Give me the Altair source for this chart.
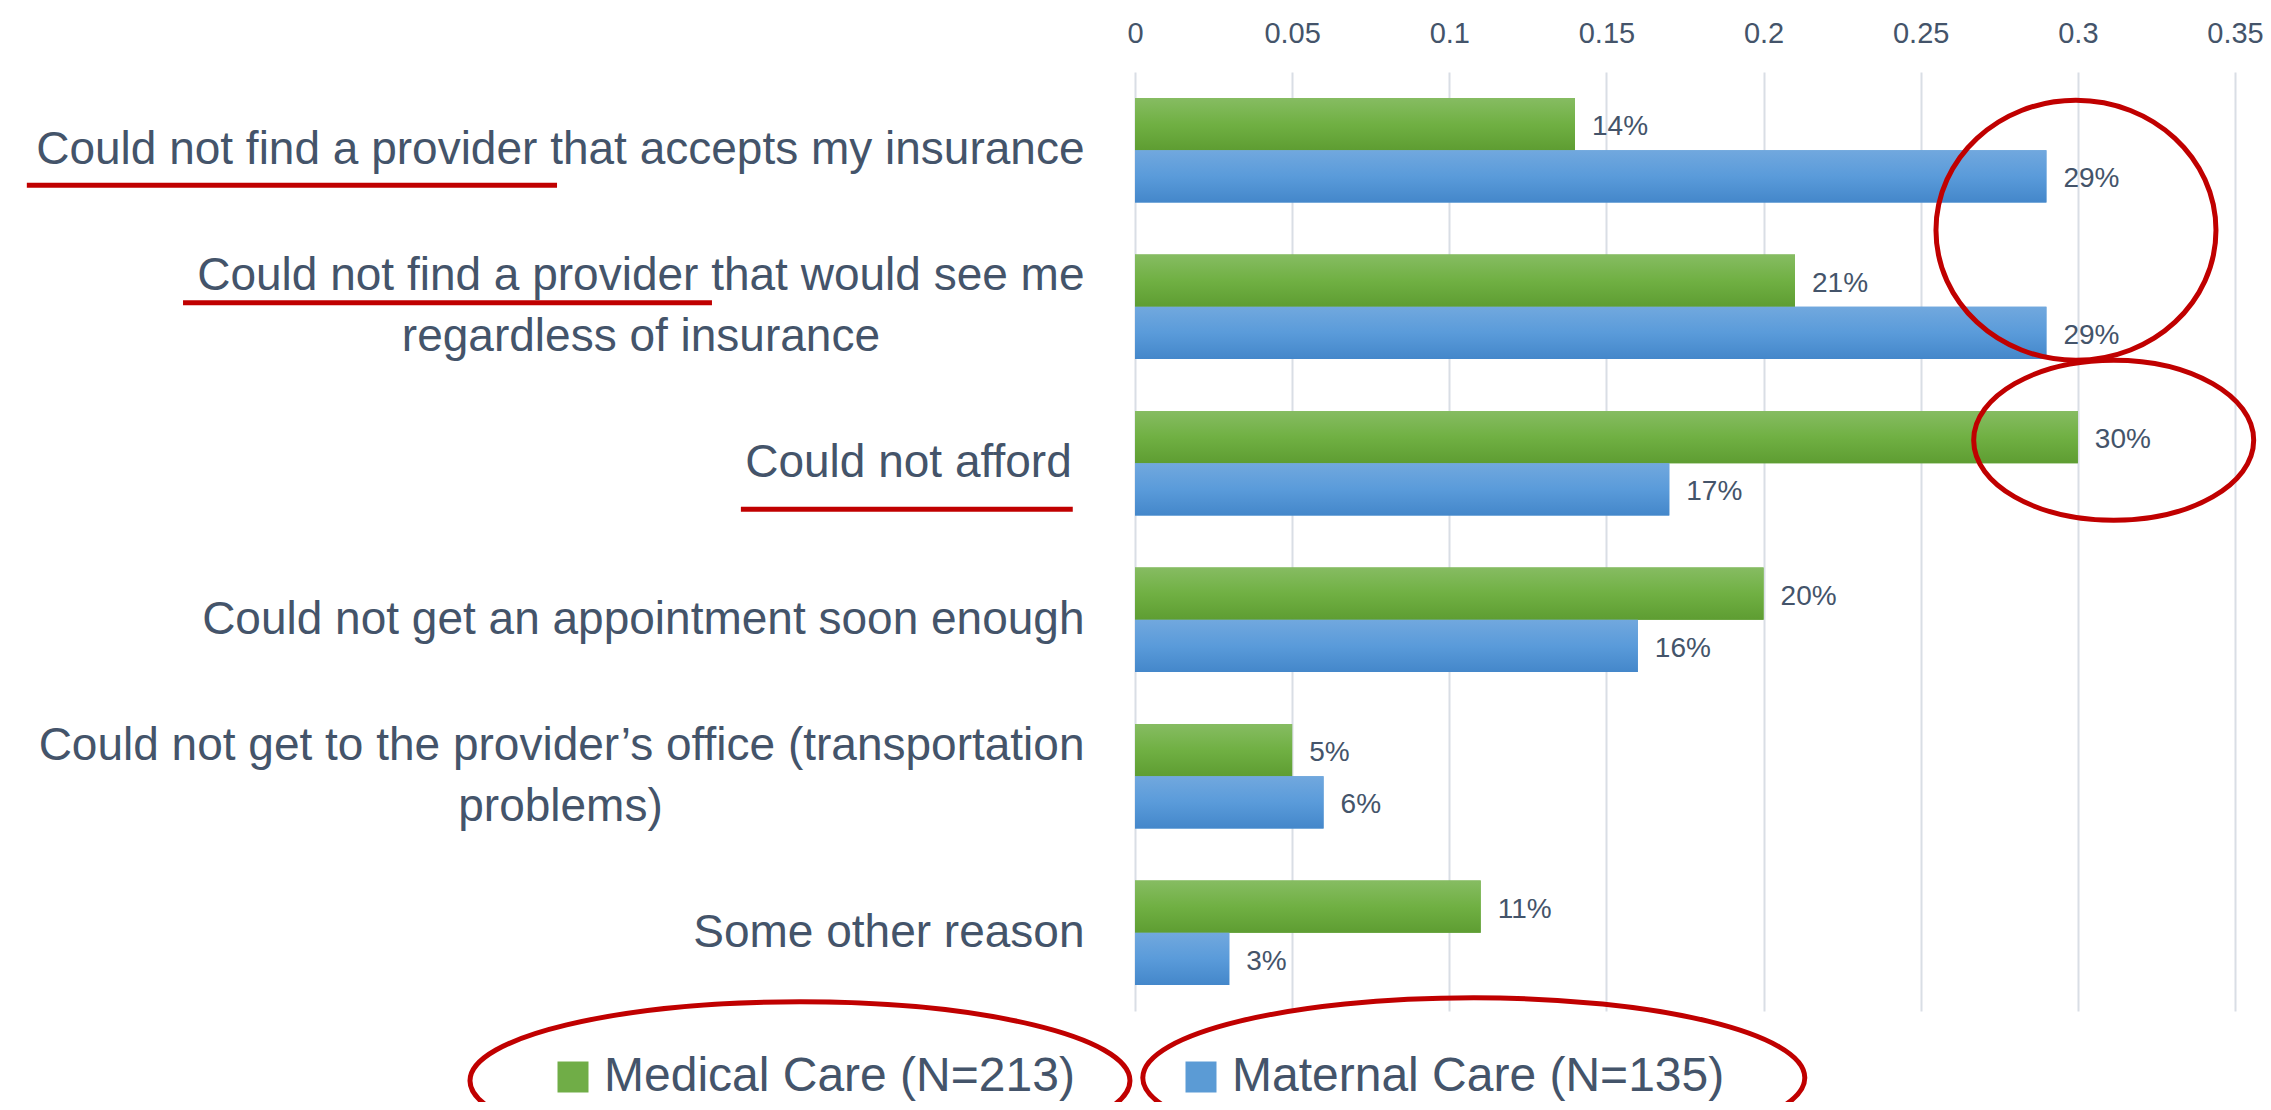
import altair as alt
import pandas as pd

# ---------------- data ----------------
categories = [
    "Could not find a provider that accepts my insurance",
    "Could not find a provider that would see me\nregardless of insurance",
    "Could not afford ",
    "Could not get an appointment soon enough",
    "Could not get to the provider\u2019s office (transportation\nproblems)",
    "Some other reason",
]
series = ["Medical Care (N=213)", "Maternal Care (N=135)"]
medical = [0.14, 0.21, 0.30, 0.20, 0.05, 0.11]
maternal = [0.29, 0.29, 0.17, 0.16, 0.06, 0.03]
x_ticks = [0, 0.05, 0.10, 0.15, 0.20, 0.25, 0.30, 0.35]

# ---------------- style ----------------
FONT = "Liberation Sans"
TEXT = "#44546A"
RED = "#C00000"
NBSP = "\u00a0"
ZWSP = "\u200b"  # keeps trailing non-breaking spaces from being trimmed
# trailing non-breaking spaces that centre a wrapped last line under the first
last_line_pad = {1: 16, 4: 33}


def display_label(i, text):
    lines = text.split("\n")
    out = []
    for ln in lines:
        trail = len(ln) - len(ln.rstrip(" "))
        out.append(ln.rstrip(" ") + NBSP * trail)
    if len(out) > 1:
        out[-1] = out[-1] + NBSP * last_line_pad.get(i, 0)
    out = [ln + ZWSP if ln.endswith(NBSP) else ln for ln in out]
    return "|".join(out)


labels = [display_label(i, c) for i, c in enumerate(categories)]

rows = []
for i, lab in enumerate(labels):
    rows.append({"label": lab, "series": series[0], "value": medical[i]})
    rows.append({"label": lab, "series": series[1], "value": maternal[i]})
df = pd.DataFrame(rows)

grad_green = {
    "gradient": "linear", "x1": 0, "y1": 0, "x2": 0, "y2": 1,
    "stops": [{"offset": 0, "color": "#86BC62"},
              {"offset": 0.5, "color": "#70B043"},
              {"offset": 1, "color": "#5E9D32"}],
}
grad_blue = {
    "gradient": "linear", "x1": 0, "y1": 0, "x2": 0, "y2": 1,
    "stops": [{"offset": 0, "color": "#71A8DE"},
              {"offset": 0.5, "color": "#5A9BDA"},
              {"offset": 1, "color": "#4487CA"}],
}

x_enc = alt.X(
    "value:Q",
    scale=alt.Scale(domain=[0, 0.35], nice=False, zero=True),
    axis=alt.Axis(
        orient="top", values=x_ticks, format="~g", title=None,
        grid=True, gridColor="#D9DEE5", gridWidth=2,
        ticks=False, tickSize=0, domain=False,
        labelFont=FONT, labelFontSize=29, labelColor=TEXT,
        labelPadding=30, labelBaseline="alphabetic",
        labelFlush=False, labelOverlap=False,
    ),
)
y_enc = alt.Y(
    "label:N", sort=labels,
    scale=alt.Scale(domain=labels, paddingInner=1 / 3, paddingOuter=1 / 6),
    axis=alt.Axis(
        title=None, ticks=False, tickSize=0, domain=False, grid=False,
        labelFont=FONT, labelFontSize=46, labelColor=TEXT,
        labelPadding=51, labelLimit=1200, labelLineHeight=61,
        labelAlign="right", labelBaseline="middle", labelOverlap=False,
        labelOffset={"condition": {"test": "indexof(datum.value, '|') >= 0",
                                   "value": -30.5},
                     "value": 0},
        labelExpr="split(datum.label, '|')",
    ),
)
yoff_enc = alt.YOffset(
    "series:N", sort=series,
    scale=alt.Scale(domain=series, paddingInner=0, paddingOuter=0),
)

base = alt.Chart(df)

legend_bars = base.mark_bar().encode(
    x=x_enc, y=y_enc, yOffset=yoff_enc,
    color=alt.Color(
        "series:N",
        scale=alt.Scale(domain=series, range=["#70AD47", "#5B9BD5"]),
        legend=alt.Legend(
            orient="none", legendX=-586, legendY=981, direction="horizontal",
            columns=2, title=None, symbolType="square", symbolSize=961,
            symbolStrokeWidth=0, labelFont=FONT, labelFontSize=48,
            labelColor=TEXT, labelOffset=7, labelLimit=1000,
            columnPadding=102, padding=0,
        ),
    ),
)

grad_bars = base.mark_bar().encode(
    x=x_enc, y=y_enc, yOffset=yoff_enc,
    fill=alt.condition(
        alt.datum.series == series[0], alt.value(grad_green), alt.value(grad_blue)
    ),
)

value_labels = base.mark_text(
    align="left", baseline="middle", dx=17, dy=3,
    font=FONT, fontSize=28, color=TEXT,
).encode(
    x=x_enc, y=y_enc, yOffset=yoff_enc,
    text=alt.Text("value:Q", format=".0%"),
)


def ellipse_path(rx, ry):
    a, b = rx / 100, ry / 100
    return f"M {-a} 0 A {a} {b} 0 1 0 {a} 0 A {a} {b} 0 1 0 {-a} 0 Z"


one = alt.InlineData(values=[{}])


def ellipse(xv, cat_idx, dy, rx, ry):
    return alt.Chart(one).mark_point(
        shape=ellipse_path(rx, ry), size=40000, filled=False,
        stroke=RED, strokeWidth=5, opacity=1, yOffset=dy,
    ).encode(x=alt.datum(xv), y=alt.datum(labels[cat_idx]))


def underline(x1, x2, cat_idx, dy):
    return alt.Chart(one).mark_rule(
        stroke=RED, strokeWidth=5, yOffset=dy, strokeCap="butt",
    ).encode(x=alt.datum(x1), x2=alt.datum(x2), y=alt.datum(labels[cat_idx]))


annotations = [
    ellipse(0.2994, 0, 80, 140, 130),
    ellipse(0.3114, 2, -23, 140, 80),
    ellipse(-0.1066, 5, 148, 330, 79),
    ellipse(0.1078, 5, 145, 331, 80),
    underline(-0.3526, -0.1839, 0, 35),
    underline(-0.3029, -0.1346, 1, -4),
    underline(-0.1254, -0.0198, 2, 46),
]

chart = alt.layer(legend_bars, grad_bars, value_labels, *annotations).properties(
    width=1100, height=939,
    autosize=alt.AutoSizeParams(type="none"),
    padding={"left": 1127, "top": 64, "right": 28, "bottom": 91},
    background="white",
).configure_view(stroke=None)

chart.save("out.html", embed_options={"renderer": "svg", "actions": False})
